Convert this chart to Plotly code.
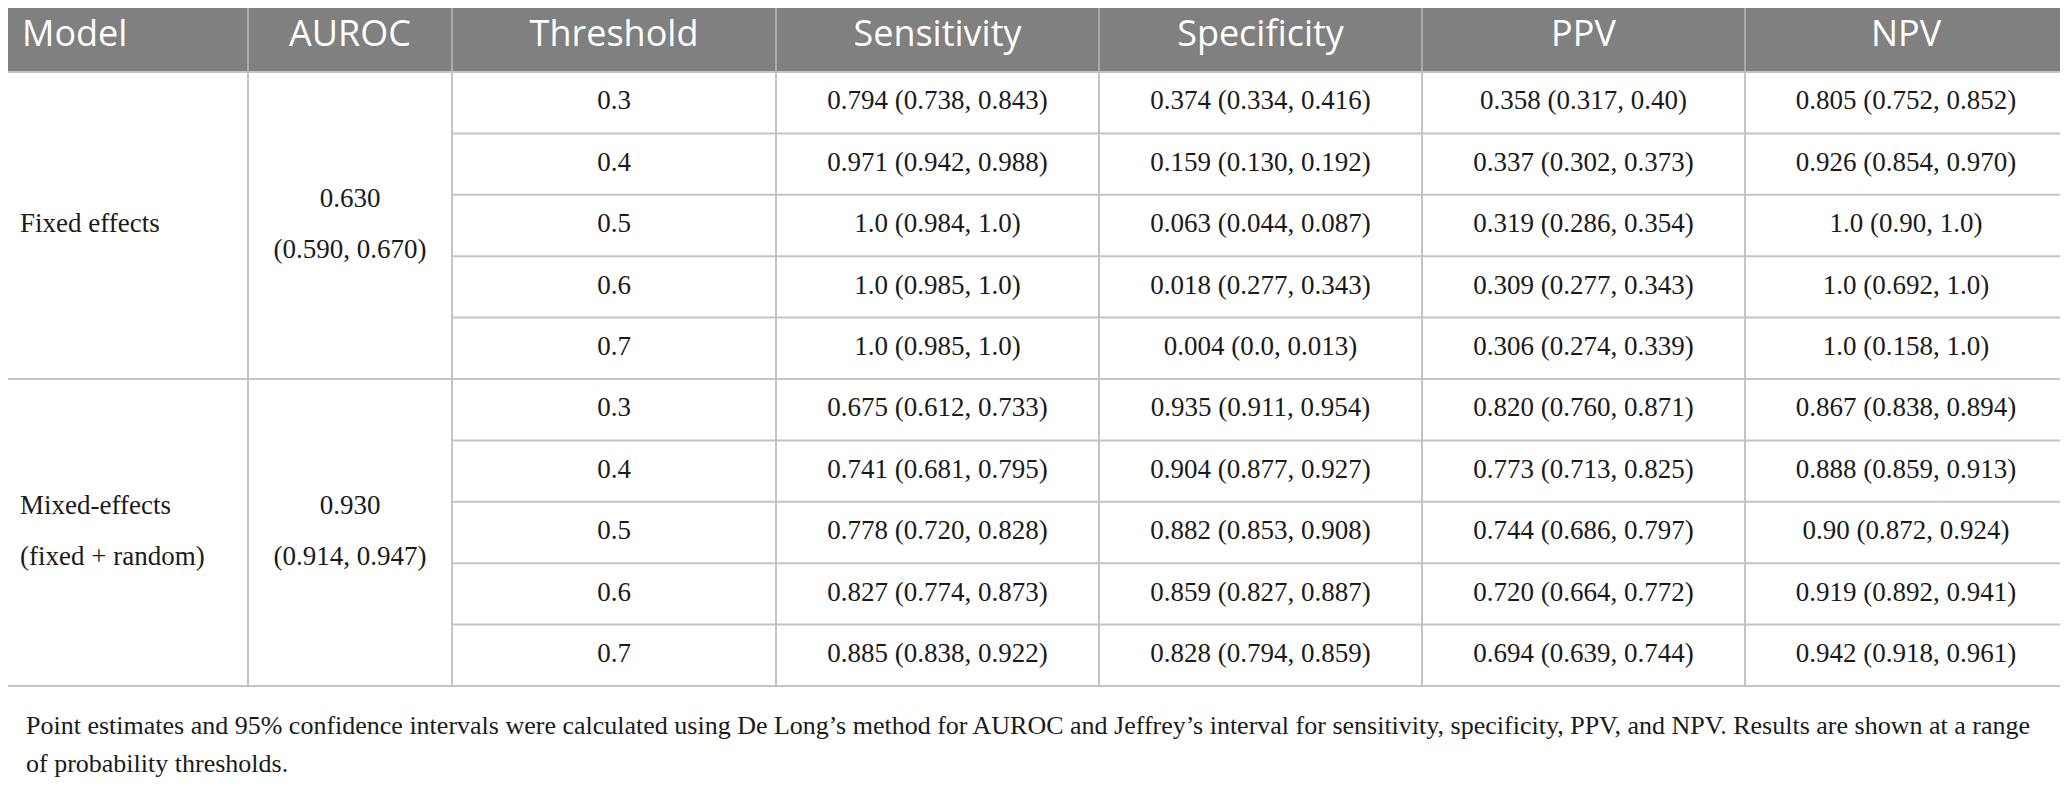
import plotly.graph_objects as go

# table content
columns = ["Model", "AUROC", "Threshold", "Sensitivity", "Specificity", "PPV", "NPV"]
models = [["Fixed effects"], ["Mixed-effects", "(fixed + random)"]]
auroc = [["0.630", "(0.590, 0.670)"], ["0.930", "(0.914, 0.947)"]]
thresholds = ["0.3", "0.4", "0.5", "0.6", "0.7", "0.3", "0.4", "0.5", "0.6", "0.7"]
sensitivity = ["0.794 (0.738, 0.843)", "0.971 (0.942, 0.988)", "1.0 (0.984, 1.0)",
               "1.0 (0.985, 1.0)", "1.0 (0.985, 1.0)", "0.675 (0.612, 0.733)",
               "0.741 (0.681, 0.795)", "0.778 (0.720, 0.828)", "0.827 (0.774, 0.873)",
               "0.885 (0.838, 0.922)"]
specificity = ["0.374 (0.334, 0.416)", "0.159 (0.130, 0.192)", "0.063 (0.044, 0.087)",
               "0.018 (0.277, 0.343)", "0.004 (0.0, 0.013)", "0.935 (0.911, 0.954)",
               "0.904 (0.877, 0.927)", "0.882 (0.853, 0.908)", "0.859 (0.827, 0.887)",
               "0.828 (0.794, 0.859)"]
ppv = ["0.358 (0.317, 0.40)", "0.337 (0.302, 0.373)", "0.319 (0.286, 0.354)",
       "0.309 (0.277, 0.343)", "0.306 (0.274, 0.339)", "0.820 (0.760, 0.871)",
       "0.773 (0.713, 0.825)", "0.744 (0.686, 0.797)", "0.720 (0.664, 0.772)",
       "0.694 (0.639, 0.744)"]
npv = ["0.805 (0.752, 0.852)", "0.926 (0.854, 0.970)", "1.0 (0.90, 1.0)",
       "1.0 (0.692, 1.0)", "1.0 (0.158, 1.0)", "0.867 (0.838, 0.894)",
       "0.888 (0.859, 0.913)", "0.90 (0.872, 0.924)", "0.919 (0.892, 0.941)",
       "0.942 (0.918, 0.961)"]
footnote = [
    "Point estimates and 95% confidence intervals were calculated using De Long\u2019s method "
    "for AUROC and Jeffrey\u2019s interval for sensitivity, specificity, PPV, and NPV. "
    "Results are shown at a range",
    "of probability thresholds.",
]

# layout (page-pixel units; the page body has an 8px margin)
W, H = 2068, 801
PAGE_PAD = 8
col_edges = [1, 248, 452, 776, 1099, 1422, 1745, 2067]
head_top, head_bot = 5, 72
row_h = 61.4
group_size = 5
line_gap = 25.5
n_rows = len(thresholds)

HEAD_FILL = "#808080"
GRID = "#c4c4c4"
TEXT = "#1a1a1a"
SERIF = "Liberation Serif"
SANS = "Open Sans"


def row_mid(i):
    return head_bot + (i + 0.5) * row_h


def col_mid(j):
    return (col_edges[j] + col_edges[j + 1]) / 2


fig = go.Figure()

# header labels
fig.add_trace(go.Scatter(
    x=[22] + [col_mid(j) for j in range(1, len(columns))],
    y=[(head_top + head_bot) / 2 - 2] * len(columns),
    text=columns, mode="text", hoverinfo="skip", showlegend=False,
    textposition=["middle right"] + ["middle center"] * (len(columns) - 1),
    textfont=dict(family=SANS, size=36, color="white"),
))

# merged model / auroc cells
mx, my, mt, ax, ay, at = [], [], [], [], [], []
for g, (lab, au) in enumerate(zip(models, auroc)):
    mid = row_mid(g * group_size + group_size // 2)
    offs = [0] if len(lab) == 1 else [-line_gap, line_gap]
    for o, t in zip(offs, lab):
        mx.append(20); my.append(mid + o); mt.append(t)
    for o, t in zip([-line_gap, line_gap], au):
        ax.append(col_mid(1)); ay.append(mid + o); at.append(t)

fig.add_trace(go.Scatter(x=mx, y=my, text=mt, mode="text", hoverinfo="skip",
                         showlegend=False, textposition="middle right",
                         textfont=dict(family=SERIF, size=27, color=TEXT)))
fig.add_trace(go.Scatter(x=ax, y=ay, text=at, mode="text", hoverinfo="skip",
                         showlegend=False, textposition="middle center",
                         textfont=dict(family=SERIF, size=27, color=TEXT)))

# per-threshold columns
for j, vals in enumerate([thresholds, sensitivity, specificity, ppv, npv], start=2):
    fig.add_trace(go.Scatter(
        x=[col_mid(j)] * n_rows, y=[row_mid(i) for i in range(n_rows)],
        text=vals, mode="text", hoverinfo="skip", showlegend=False,
        textposition="middle center",
        textfont=dict(family=SERIF, size=27, color=TEXT),
    ))

# grid
table_bot = head_bot + n_rows * row_h
shapes = [dict(type="rect", x0=0, x1=W, y0=head_top, y1=head_bot,
               fillcolor=HEAD_FILL, line=dict(width=0), layer="below")]
for xe in col_edges[1:-1]:
    shapes.append(dict(type="line", x0=xe, x1=xe, y0=head_top, y1=head_bot,
                       line=dict(color="#a9a9a9", width=2)))
for xe in col_edges:
    shapes.append(dict(type="line", x0=xe, x1=xe, y0=head_bot, y1=table_bot,
                       line=dict(color=GRID, width=2)))
for i in range(1, n_rows):
    x0 = col_edges[0] if i % group_size == 0 else col_edges[2]
    y = head_bot + i * row_h
    shapes.append(dict(type="line", x0=x0, x1=col_edges[-1], y0=y, y1=y,
                       line=dict(color=GRID, width=2)))
for y in [head_bot, table_bot]:
    shapes.append(dict(type="line", x0=col_edges[0], x1=col_edges[-1], y0=y, y1=y,
                       line=dict(color=GRID, width=2)))
shapes.append(dict(type="line", x0=0, x1=W, y0=head_top, y1=head_top,
                   line=dict(color="#b0b0b0", width=2)))

annotations = []
for k, line in enumerate(footnote):
    annotations.append(dict(x=24, y=725 + k * 38, xref="x", yref="y", text=line,
                            showarrow=False, xanchor="left", yanchor="middle",
                            font=dict(family=SERIF, size=26, color=TEXT)))

fig.update_layout(
    width=W, height=H,
    margin=dict(l=0, r=0, t=0, b=0),
    paper_bgcolor="white", plot_bgcolor="white",
    xaxis=dict(range=[PAGE_PAD, W + PAGE_PAD], visible=False, fixedrange=True),
    yaxis=dict(range=[H + PAGE_PAD, PAGE_PAD], visible=False, fixedrange=True),
    shapes=shapes, annotations=annotations,
)

fig.write_html("out.html")
